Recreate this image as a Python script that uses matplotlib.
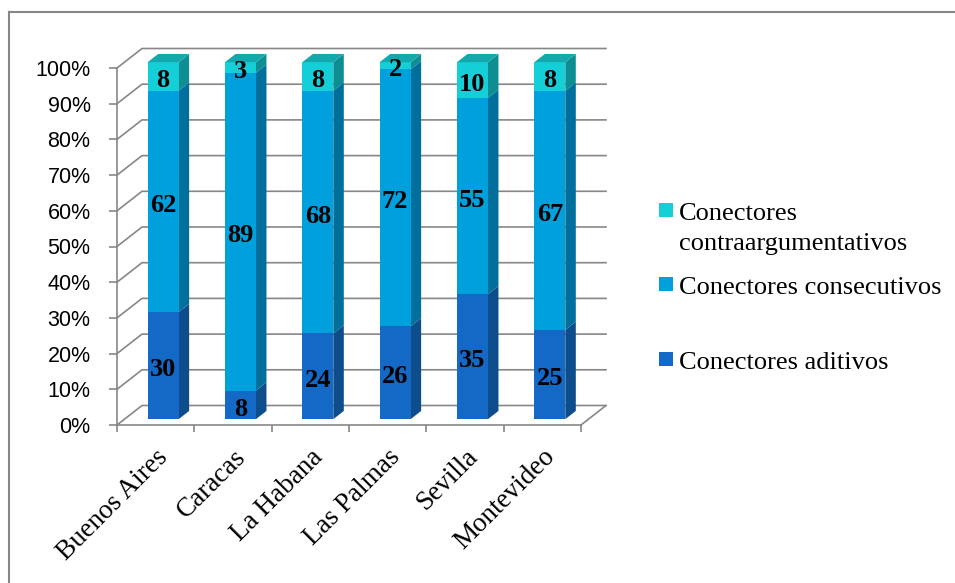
import numpy as np
import matplotlib
matplotlib.use("Agg")
import matplotlib.pyplot as plt
from matplotlib.patches import Polygon, Rectangle
from matplotlib.lines import Line2D
from matplotlib.ticker import PercentFormatter, MultipleLocator
from matplotlib.transforms import offset_copy

ciudades = ["Buenos Aires", "Caracas", "La Habana", "Las Palmas", "Sevilla", "Montevideo"]
aditivos = [30, 8, 24, 26, 35, 25]
consecutivos = [62, 89, 68, 72, 55, 67]
contraargumentativos = [8, 3, 8, 2, 10, 8]

series = [
    ("Conectores aditivos", aditivos, "#1469C6", "#0D4D8C"),
    ("Conectores consecutivos", consecutivos, "#00A0DC", "#006F9B"),
    ("Conectores\ncontraargumentativos", contraargumentativos, "#14CED8", "#0E8E92"),
]
color_tapa = "#13A9AC"
gris = "#878787"

W, H = 955, 583
fig = plt.figure(figsize=(W / 100, H / 100), dpi=100)

# ejes = plano frontal del grafico 3D
x0_px, x1_px, y0_px, y1_px = 117, 581, 425, 68
ax = fig.add_axes([x0_px / W, 1 - y0_px / H, (x1_px - x0_px) / W, (y0_px - y1_px) / H])
n = len(ciudades)
ax.set_xlim(-0.5, n - 0.5)
ax.set_ylim(0, 100)
ax.patch.set_visible(False)

# profundidad en unidades de datos
DX = 25 / ((x1_px - x0_px) / n)
DY = 19.5 / ((y0_px - y1_px) / 100)

# pared del fondo y pared izquierda
for v in range(0, 101, 10):
    ax.add_line(Line2D([-0.5, -0.5 + DX, n - 0.5 + DX], [v, v + DY, v + DY],
                       color=gris, lw=1.2, clip_on=False, zorder=1))
# borde derecho del suelo
ax.add_line(Line2D([n - 0.5, n - 0.5 + DX], [0, DY], color=gris, lw=1.2,
                   clip_on=False, zorder=1))

# barras apiladas con caras frontal, lateral y superior
ancho = 0.40
f0 = 0.30   # posicion de la cara frontal en la profundidad
fd = 0.42   # profundidad de la barra
ox, oy = f0 * DX, f0 * DY
sx, sy = fd * DX, fd * DY
trans_etq = offset_copy(ax.transData, fig=fig, x=0, y=-3, units="points")
for i in range(n):
    base = 0
    xl = i + ox - ancho / 2
    for nombre, vals, c_front, c_lado in series:
        h = vals[i]
        yb = oy + base
        ax.add_patch(Polygon([(xl + ancho, yb), (xl + ancho + sx, yb + sy),
                              (xl + ancho + sx, yb + h + sy), (xl + ancho, yb + h)],
                             closed=True, facecolor=c_lado, edgecolor="none",
                             clip_on=False, zorder=3))
        ax.add_patch(Rectangle((xl, yb), ancho, h, facecolor=c_front,
                               edgecolor="none", clip_on=False, zorder=4))
        ax.text(i + ox, yb + h / 2, str(h), ha="center", va="center",
                family="Liberation Serif", fontweight="bold", fontsize=19,
                zorder=6, clip_on=False, transform=trans_etq)
        base += h
    yt = oy + base
    ax.add_patch(Polygon([(xl, yt), (xl + ancho, yt), (xl + ancho + sx, yt + sy),
                          (xl + sx, yt + sy)], closed=True, facecolor=color_tapa,
                         edgecolor="none", clip_on=False, zorder=4))

# ejes
for s in ["top", "right"]:
    ax.spines[s].set_visible(False)
for s in ["left", "bottom"]:
    ax.spines[s].set_color(gris)
    ax.spines[s].set_linewidth(1.2)

ax.yaxis.set_major_locator(MultipleLocator(10))
ax.yaxis.set_major_formatter(PercentFormatter(100, decimals=0))
ax.tick_params(axis="y", direction="out", length=6, width=1.2, color=gris, pad=13)
for t in ax.get_yticklabels():
    t.set_family("Liberation Sans")
    t.set_fontsize(15.5)

ax.set_xticks(np.arange(n))
ax.set_xticklabels(ciudades, rotation=45, ha="right", rotation_mode="anchor",
                   family="Liberation Serif", fontsize=19.5)
ax.set_xticks(np.arange(n + 1) - 0.5, minor=True)
ax.tick_params(axis="x", which="major", length=0, pad=14)
ax.tick_params(axis="x", which="minor", direction="out", length=5, width=1.2, color=gris)

# leyenda (cuadro alineado con la primera linea del texto)
ley = [(series[2], 210), (series[1], 284), (series[0], 359)]
for (nombre, vals, c_front, c_lado), cy in ley:
    fig.patches.append(Rectangle(((673 - 14) / W, 1 - (cy + 7) / H), 14 / W, 14 / H,
                                 facecolor=c_front, edgecolor="none",
                                 transform=fig.transFigure, figure=fig))
    fig.text(679 / W, 1 - (cy - 7) / H, nombre, ha="left", va="top",
             family="Liberation Serif", fontsize=19, linespacing=1.45)

# marco exterior
fig.add_artist(Line2D([9 / W, 1], [1 - 12 / H, 1 - 12 / H], color=gris, lw=1.5,
                      transform=fig.transFigure))
fig.add_artist(Line2D([9 / W, 9 / W], [0, 1 - 12 / H], color=gris, lw=1.5,
                      transform=fig.transFigure))

fig.savefig("out.png", dpi=100)
